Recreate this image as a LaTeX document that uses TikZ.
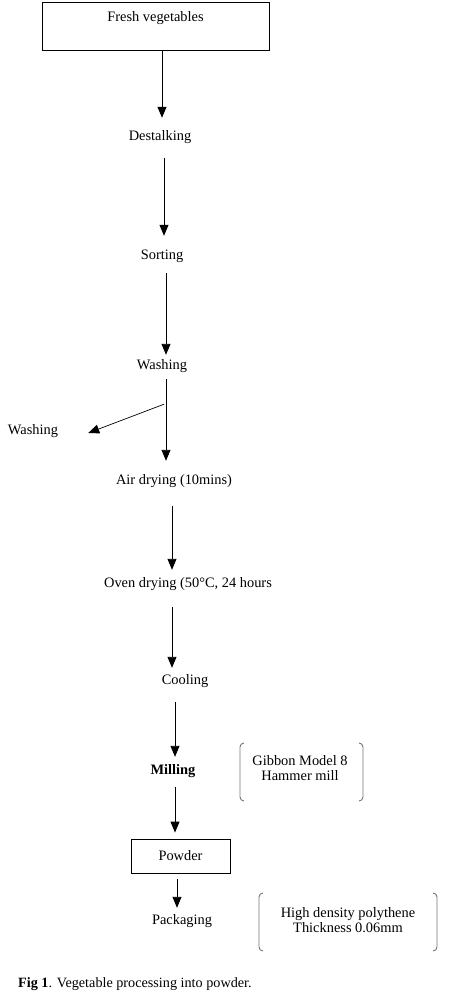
\documentclass[tikz,border=0pt]{standalone}
\usepackage{fontspec}
\setmainfont{Liberation Serif}
\usetikzlibrary{arrows.meta}
\newcommand{\fsz}{\fontsize{14.4}{16}\selectfont}
\tikzset{
  lbl/.style={inner sep=0pt, text height=10pt, text depth=3pt, font=\fsz},
  arr/.style={-{Triangle[width=9pt,length=11pt]}, line width=0.9pt},
  brk/.style={draw=black!55, line width=0.9pt, rounded corners=4pt},
  procbox/.style={draw, line width=0.9pt, font=\fsz}
}
\begin{document}
\begin{tikzpicture}[x=1pt,y=-1pt]
\useasboundingbox (0,0) rectangle (462,1008);
% nodes
\node[procbox, anchor=north, minimum width=227pt, inner xsep=0pt, inner ysep=4pt,
      text height=15pt, text depth=25pt] (fresh) at (155.5,2) {Fresh vegetables};
\node[lbl] (dest) at (160,137) {Destalking};
\node[lbl] (sort) at (162,256) {Sorting};
\node[lbl] (wash) at (162,366) {Washing};
\node[lbl] (washL) at (33,431) {Washing};
\node[lbl] (air) at (174,481) {Air drying (10mins)};
\node[lbl] (oven) at (188,584) {Oven drying (50°C, 24 hours};
\node[lbl] (cool) at (185,681) {Cooling};
\node[lbl, font=\fsz\bfseries] (mill) at (173,771) {Milling};
\node[procbox, minimum width=99pt, minimum height=34pt, inner sep=0pt] (powder) at (180.5,856) {Powder};
\node[lbl] (pack) at (182,921) {Packaging};
\node[lbl, align=center, text height=, text depth=] (gib) at (300,768.5) {Gibbon Model 8\\[-1pt]Hammer mill};
\node[lbl, align=center, text height=, text depth=] (hdp) at (348,920) {High density polythene\\[-1pt]Thickness 0.06mm};
\node[anchor=west, inner sep=0pt, font=\fontsize{14.2}{16}\selectfont] (cap) at (18,984) {\textbf{Fig 1}. Vegetable processing into powder.};
% brackets
\draw[brk] (244,743) -- (240,743) -- (240,801) -- (244,801);
\draw[brk] (359,743) -- (363,743) -- (363,801) -- (359,801);
\draw[brk] (263,893) -- (259,893) -- (259,951) -- (263,951);
\draw[brk] (433,893) -- (437,893) -- (437,951) -- (433,951);
% arrows
\draw[arr, shorten >=12.5pt] ([xshift=6.5pt]fresh.south) -- ([xshift=2pt]dest.north);
\draw[arr, shorten <=14.5pt, shorten >=13.5pt] ([xshift=4pt]dest.south) -- ([xshift=2pt]sort.north);
\draw[arr, shorten <=10.5pt, shorten >=4.5pt] ([xshift=4pt]sort.south) -- ([xshift=4pt]wash.north);
\draw[arr, shorten <=6.5pt, shorten >=13.5pt] ([xshift=4pt]wash.south) -- ([xshift=-8pt]air.north);
\coordinate (br) at ([xshift=2pt,yshift=-31.5pt]wash.south);
\draw[arr, line width=0.7pt] (br) -- ([xshift=30pt,yshift=-2pt]washL.east);
\draw[arr, shorten <=18.5pt, shorten >=7.5pt] ([xshift=-2pt]air.south) -- ([xshift=-16pt]oven.north);
\draw[arr, shorten <=16.5pt, shorten >=6.5pt] ([xshift=-16pt]oven.south) -- ([xshift=-13pt]cool.north);
\draw[arr, shorten <=14.5pt, shorten >=7.5pt] ([xshift=-10pt]cool.south) -- ([xshift=2pt]mill.north);
\draw[arr, shorten <=9.5pt, shorten >=6pt] ([xshift=2pt]mill.south) -- ([xshift=-5.5pt]powder.north);
\draw[arr, shorten <=6pt, shorten >=6.5pt] ([xshift=-3.5pt]powder.south) -- ([xshift=-5pt]pack.north);
\end{tikzpicture}
\end{document}
